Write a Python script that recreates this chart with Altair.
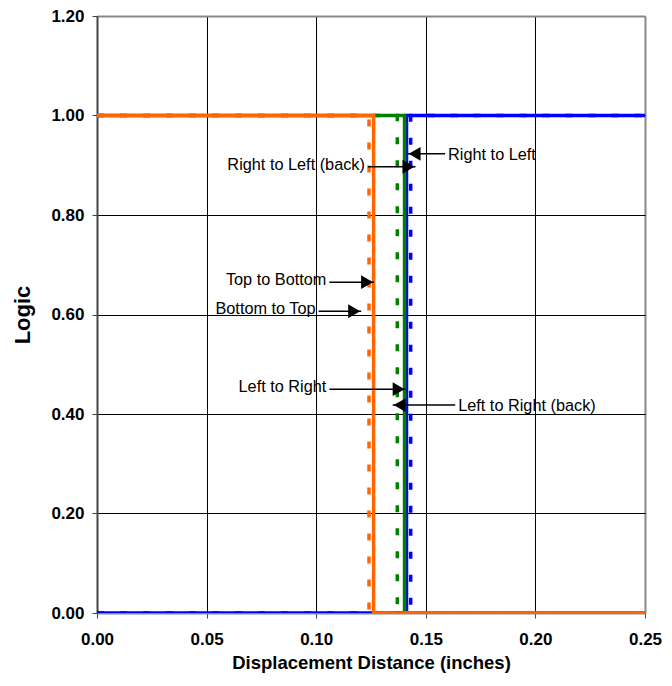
import altair as alt
import pandas as pd

# step series: (name, color, dashed, value before, transition x, value after)
series_names = ["Blue dashed", "Blue solid", "Green dashed", "Green solid", "Orange dashed", "Orange solid"]
series_colors = ["#0000FF", "#0000FF", "#008000", "#008000", "#FF6600", "#FF6600"]
series_dashed = [True, False, True, False, True, False]
level_before = [0, 0, 1, 1, 1, 1]
transition_x = [0.1431, 0.1412, 0.1370, 0.1403, 0.1241, 0.1262]
level_after = [1, 1, 0, 0, 0, 0]
x_min, x_max = 0.0, 0.25

# annotations
ann_text = ["Right to Left (back)", "Right to Left", "Top to Bottom", "Bottom to Top",
            "Left to Right", "Left to Right (back)"]
ann_start = [0.1236, 0.1588, 0.1060, 0.1011, 0.1060, 0.1634]
ann_tip = [0.1453, 0.1417, 0.1264, 0.1205, 0.1408, 0.1349]
ann_y = [0.897, 0.923, 0.665, 0.6065, 0.450, 0.418]

x_ticks = [0.0, 0.05, 0.10, 0.15, 0.20, 0.25]
y_ticks = [0.0, 0.2, 0.4, 0.6, 0.8, 1.0, 1.2]

FONT = "Liberation Sans"

xscale = alt.Scale(domain=[0, 0.25], nice=False, zero=False)
yscale = alt.Scale(domain=[0, 1.2], nice=False)

edge_test = "datum.value > 1.19 || (datum.value > 0.249 && datum.value < 0.251)"
grid_color = {"condition": {"test": edge_test, "value": "#888888"}, "value": "black"}
grid_width = {"condition": {"test": edge_test, "value": 2}, "value": 1}

xaxis = alt.Axis(values=x_ticks, format=".2f", title="Displacement Distance (inches)",
                 labelFont=FONT, labelFontSize=17, labelFontWeight="bold", labelColor="black",
                 titleFont=FONT, titleFontSize=18.5, titleFontWeight="bold", titleColor="black",
                 titlePadding=6, labelPadding=13, tickSize=5, tickColor="#444444",
                 domainColor="#888888", domainWidth=2, grid=True,
                 gridColor=grid_color, gridWidth=grid_width, labelFlush=False)
yaxis = alt.Axis(values=y_ticks, format=".2f", title="Logic",
                 labelFont=FONT, labelFontSize=17, labelFontWeight="bold", labelColor="black",
                 titleFont=FONT, titleFontSize=22, titleFontWeight="bold", titleColor="black",
                 titlePadding=16, labelPadding=8, tickSize=5, tickColor="#444444",
                 domainColor="#444444", domainWidth=2, grid=True,
                 gridColor=grid_color, gridWidth=grid_width, labelFlush=False)


def X(field):
    return alt.X(field, scale=xscale, axis=xaxis)


def Y(field):
    return alt.Y(field, scale=yscale, axis=yaxis)


layers = []
for i, name in enumerate(series_names):
    t = transition_x[i]
    df = pd.DataFrame({
        "x": [x_min, t, t, x_max],
        "y": [level_before[i], level_before[i], level_after[i], level_after[i]],
        "o": [0, 1, 2, 3],
    })
    kw = dict(color=series_colors[i], strokeWidth=3.5, strokeCap="butt", clip=True)
    if series_dashed[i]:
        kw["strokeDash"] = [7, 16]
    layers.append(alt.Chart(df).mark_line(**kw).encode(x=X("x:Q"), y=Y("y:Q"), order="o:Q"))

ann = pd.DataFrame({"text": ann_text, "start": ann_start, "tip": ann_tip, "y": ann_y})
ann["right"] = ann["tip"] > ann["start"]

rules = alt.Chart(ann).mark_rule(color="black", strokeWidth=1.5).encode(
    x=X("start:Q"), x2="tip:Q", y=Y("y:Q"))

heads_r = alt.Chart(ann).transform_filter("datum.right").mark_point(
    shape="triangle-right", filled=True, color="black", opacity=1, size=190, xOffset=-7).encode(
    x=X("tip:Q"), y=Y("y:Q"))
heads_l = alt.Chart(ann).transform_filter("!datum.right").mark_point(
    shape="triangle-left", filled=True, color="black", opacity=1, size=190, xOffset=7).encode(
    x=X("tip:Q"), y=Y("y:Q"))

text_r = alt.Chart(ann).transform_filter("datum.right").mark_text(
    align="right", baseline="middle", font=FONT, fontSize=16.3, color="black", dx=-3, dy=-2).encode(
    x=X("start:Q"), y=Y("y:Q"), text="text:N")
text_l = alt.Chart(ann).transform_filter("!datum.right").mark_text(
    align="left", baseline="middle", font=FONT, fontSize=16.3, color="black", dx=3, dy=1).encode(
    x=X("start:Q"), y=Y("y:Q"), text="text:N")

chart = alt.layer(*layers, rules, heads_r, heads_l, text_r, text_l).properties(
    width=548, height=597,
    autosize=alt.AutoSizeParams(type="none"),
    padding={"left": 89, "top": 8, "right": 19, "bottom": 64},
).configure_view(stroke="#888888", strokeWidth=2).configure(background="white")

chart.save("out.html", embed_options={"renderer": "svg", "actions": False})
